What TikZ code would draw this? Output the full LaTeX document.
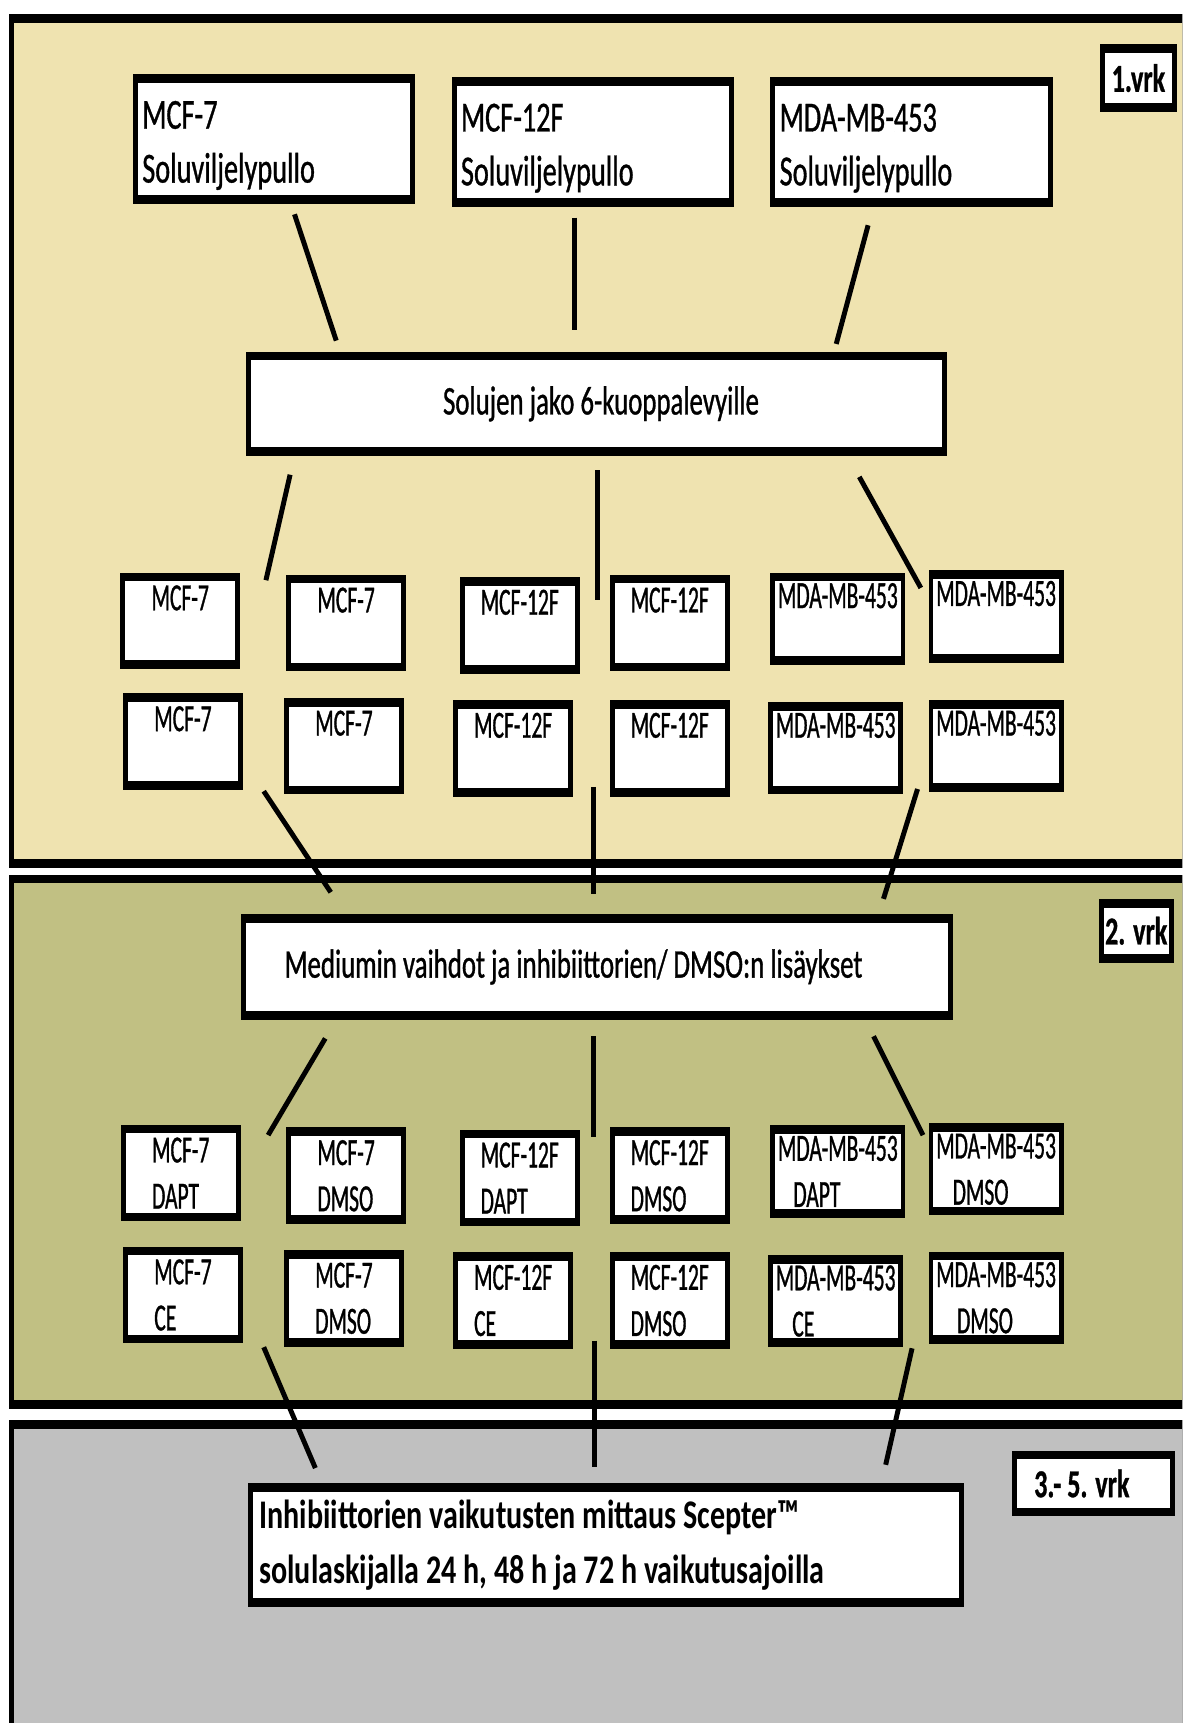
\documentclass[tikz,border=0pt]{standalone}
\usepackage{fontspec}
\setmainfont{Carlito}[FakeStretch=0.66, FakeBold=0.8]
\newfontfamily\wellfont{Carlito}[FakeStretch=0.56, FakeBold=0.8]
\newfontfamily\heavyfont{Carlito}[FakeStretch=0.74]
\usetikzlibrary{calc}

\definecolor{dayone}{RGB}{239,227,176}
\definecolor{daytwo}{RGB}{193,192,131}
\definecolor{daythree}{RGB}{192,192,192}

\begin{document}
\begin{tikzpicture}[x=1pt, y=-1pt,
  box/.style={fill=black, inner sep=0pt, outer sep=0pt,
    path picture={\fill[white] ([xshift=4.5pt,yshift=-8pt]path picture bounding box.north west)
      rectangle ([xshift=-4.5pt,yshift=8pt]path picture bounding box.south east);}},
  flask/.style={box, minimum width=257pt, minimum height=118pt, text width=240pt, align=left,
    font=\fontsize{39}{49}\selectfont},
  stage/.style={box, font=\fontsize{37}{48}\selectfont},
  well/.style={box, minimum width=109pt, minimum height=88pt, align=left,
    font=\wellfont\fontsize{35}{42}\selectfont},
  widewell/.style={well, minimum width=123pt, minimum height=84pt},
  daylabel/.style={box, font=\bfseries\fontsize{36}{44}\selectfont},
  link/.style={line width=4.5pt}]

  \useasboundingbox (0,0) rectangle (1076,1568);
  \clip (0,0) rectangle (1076,1568);

  % Day panels
  \fill[black] (8,13) rectangle (1090,790);
  \fill[dayone] (13,21) rectangle (1090,782);
  \fill[black] (8,796) rectangle (1090,1282);
  \fill[daytwo] (13,804) rectangle (1090,1274);
  \fill[black] (8,1292) rectangle (1090,1580);
  \fill[daythree] (13,1300) rectangle (1090,1580);

  % Day labels
  \node[daylabel, minimum width=70pt, minimum height=62pt] (day1) at (1036,71) {1.vrk};
  \node[daylabel, minimum width=68pt, minimum height=58pt] (day2) at (1034,847) {2. vrk};
  \node[daylabel, minimum width=148pt, minimum height=60pt] (day3) at (995,1350) {3.- 5. vrk\hspace*{21pt}};

  % Culture flasks
  \node[flask] (flaskA) at (249.5,126.5) {\rule{0pt}{37pt}MCF-7\\Soluviljelypullo};
  \node[flask] (flaskB) at (539.5,129) {\rule{0pt}{37pt}MCF-12F\\Soluviljelypullo};
  \node[flask] (flaskC) at (829.5,129) {\rule{0pt}{37pt}MDA-MB-453\\Soluviljelypullo};

  % Splitting onto the plates
  \node[stage, minimum width=638pt, minimum height=95pt] (split) at (543,367.5) {\hspace*{8pt}Solujen jako 6-kuoppalevyille};

  % Wells, day 1
  \foreach \n/\x/\y/\t in {a1/164/565/MCF-7, a2/315/567/MCF-7, a3/473/569/MCF-12F, a4/609.5/567/MCF-12F,
      b1/166.5/675/MCF-7, b2/313/679/MCF-7, b3/467/681/MCF-12F, b4/609.5/681/MCF-12F}
    \node[well] (\n) at (\x,\y) {\t\\\vphantom{D}};
  \foreach \n/\x/\y in {a5/762.5/563, a6/906.5/561, b5/760.5/681, b6/906.5/679}
    \node[widewell] (\n) at (\x,\y) {MDA-MB-453\\\vphantom{D}};

  % Medium change
  \node[stage, minimum width=648pt, minimum height=96pt, text width=568pt, align=left] (medium) at (543,880)
    {\spaceskip=0pt Mediumin vaihdot ja inhibiittorien/ DMSO:n lisäykset};

  % Wells, day 2
  \foreach \n/\x/\y/\s/\t in {c1/164.5/1067.5/MCF-7/DAPT, c2/315/1070/MCF-7/DMSO, c3/473/1072/MCF-12F/DAPT, c4/609.5/1070/MCF-12F/DMSO,
      d1/166.5/1178.5/MCF-7/CE, d2/313/1181.5/MCF-7/DMSO, d3/467/1183.5/MCF-12F/CE, d4/609.5/1183.5/MCF-12F/DMSO}
    \node[well] (\n) at (\x,\y) {\s\\\t};
  \foreach \n/\x/\y/\i/\t in {c5/762.5/1066/14/DAPT, c6/906.5/1064/15/DMSO, d5/760.5/1184/15/CE, d6/906.5/1181/19/DMSO}
    \node[widewell] (\n) at (\x,\y) {MDA-MB-453\\\hspace*{\i pt}\t};

  % Measurement
  \node[stage, minimum width=651pt, minimum height=112pt, text width=631pt, align=left,
    font=\heavyfont\bfseries\fontsize{37}{50}\selectfont] (measure) at (551.5,1406)
    {\spaceskip=0pt Inhibiittorien vaikutusten mittaus Scepter™\\solulaskijalla 24 h, 48 h ja 72 h vaikutusajoilla};

  % Flasks to plates
  \draw[link] ([shift={(18.5,9.5)}]flaskA.south) -- ([shift={(-237,-10)}]split.north);
  \draw[link] ([shift={(-16.5,10)}]flaskB.south) -- ([shift={(-20,-20)}]split.north);
  \draw[link] ([shift={(-39.5,17)}]flaskC.south) -- ([shift={(218,-7)}]split.north);

  % Plates to wells
  \draw[link] ([shift={(-279,17)}]split.south) -- ([shift={(23.5,7)}]a1.north east);
  \draw[link] ([shift={(1,13)}]split.south) -- ([shift={(16.5,21)}]a3.north east);
  \draw[link] ([shift={(239,19)}]split.south) -- ([shift={(-7,16)}]a6.north west);

  % Wells to medium change
  \draw[link] ([shift={(19,1)}]b1.south east) -- ([shift={(-242,-20)}]medium.north);
  \draw[link] ([shift={(18.5,-9)}]b3.south east) -- ([shift={(-3,-18)}]medium.north);
  \draw[link] ([shift={(-10,-3)}]b6.south west) -- ([shift={(261,-14)}]medium.north);

  % Medium change to treated wells
  \draw[link] ([shift={(-247,17)}]medium.south) -- ([shift={(25,9.5)}]c1.north east);
  \draw[link] ([shift={(-3,15)}]medium.south) -- ([shift={(12.5,7)}]c3.north east);
  \draw[link] ([shift={(252,15)}]medium.south) -- ([shift={(-5,11)}]c6.north west);

  % Treated wells to measurement
  \draw[link] ([shift={(19,3.5)}]d1.south east) -- ([shift={(-264.5,-14)}]measure.north);
  \draw[link] ([shift={(19.5,-7.5)}]d3.south east) -- ([shift={(-10.5,-15)}]measure.north);
  \draw[link] ([shift={(-15,4)}]d6.south west) -- ([shift={(254.5,-17)}]measure.north);
\end{tikzpicture}
\end{document}
